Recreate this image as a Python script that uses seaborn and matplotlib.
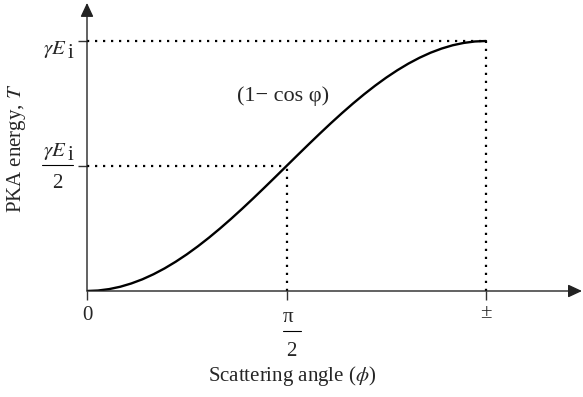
import matplotlib
matplotlib.use("Agg")
import matplotlib.pyplot as plt
import numpy as np
import pandas as pd
import seaborn as sns

# ---- data ----
angle_deg = [0, 5, 10, 15, 20, 25, 30, 35, 40, 45, 50, 55, 60, 65, 70, 75, 80, 85, 90,
             95, 100, 105, 110, 115, 120, 125, 130, 135, 140, 145, 150, 155, 160, 165,
             170, 175, 180]
energy_frac = [0.0, 0.0019, 0.0076, 0.0170, 0.0302, 0.0468, 0.0670, 0.0904, 0.1170,
               0.1464, 0.1786, 0.2132, 0.25, 0.2887, 0.3290, 0.3706, 0.4132, 0.4564,
               0.5, 0.5436, 0.5868, 0.6294, 0.6710, 0.7113, 0.75, 0.7868, 0.8214,
               0.8536, 0.8830, 0.9096, 0.9330, 0.9532, 0.9698, 0.9830, 0.9924, 0.9981,
               1.0]
x_ticks = [0, 90, 180]
y_ticks = [0.5, 1.0]
guide_angles = [90, 180]
guide_levels = [0.5, 1.0]

sns.set_style("white")
plt.rcParams["font.family"] = ["Liberation Serif", "DejaVu Serif"]
plt.rcParams["mathtext.fontset"] = "stix"

W, H = 583, 397
fig = plt.figure(figsize=(W / 100, H / 100), dpi=100)
ax = fig.add_axes([87 / W, (H - 291) / H, 496 / W, 291 / H])

df = pd.DataFrame({"angle": angle_deg, "T": energy_frac})
sns.lineplot(data=df, x="angle", y="T", ax=ax, color="black", lw=1.7)

ax.set_xlim(0, 496 * 180 / 399)
ax.set_ylim(0, 291 / 250)
for s in ax.spines.values():
    s.set_visible(False)
ax.set_xlabel("")
ax.set_ylabel("")
ax.set_xticks(x_ticks)
ax.set_yticks(y_ticks)
ax.tick_params(axis="both", direction="out", length=6.5, width=1.0, color="#333333",
               labelbottom=False, labelleft=False, bottom=True, left=True)

# dotted guide lines
dot = dict(color="black", lw=1.6, linestyle=(0, (1, 2.6)), dash_capstyle="butt")
for a, lv in zip(guide_angles, guide_levels):
    ax.plot([0, a], [lv, lv], **dot)
    ax.plot([a, a], [0, lv], **dot)

# axes with arrow heads
arr = dict(arrowstyle="-|>,head_length=0.6,head_width=0.28", mutation_scale=14,
           lw=1.0, color="#222222", shrinkA=0, shrinkB=0)
ax.annotate("", xy=(0.998, 0), xytext=(0, 0), xycoords="axes fraction",
            arrowprops=arr, annotation_clip=False)
ax.annotate("", xy=(0, 0.99), xytext=(0, 0), xycoords="axes fraction",
            arrowprops=arr, annotation_clip=False)


def P(px, py):
    return px / W, 1 - py / H


fs = 15
# y tick labels
fig.text(*P(67, 54), r"$\gamma E$", ha="right", va="baseline", fontsize=fs)
fig.text(*P(70.5, 58.5), "i", ha="center", va="baseline", fontsize=fs)
fig.text(*P(67, 156), r"$\gamma E$", ha="right", va="baseline", fontsize=fs)
fig.text(*P(70.5, 160.5), "i", ha="center", va="baseline", fontsize=fs)
fig.add_artist(plt.Line2D([42 / W, 73 / W], [1 - 164.5 / H, 1 - 164.5 / H],
                          color="black", lw=0.8))
fig.text(*P(57, 188.5), "2", ha="center", va="baseline", fontsize=fs)

# x tick labels
fig.text(*P(87, 319.5), "0", ha="center", va="baseline", fontsize=fs)
fig.text(*P(288.5, 322.5), "π", ha="center", va="baseline", fontsize=fs)
fig.add_artist(plt.Line2D([283 / W, 300.5 / W], [1 - 331 / H, 1 - 331 / H],
                          color="black", lw=0.8))
fig.text(*P(291, 355.5), "2", ha="center", va="baseline", fontsize=fs)
fig.text(*P(486, 318.5), "±", ha="center", va="baseline", fontsize=fs)

# annotation and axis titles
fig.text(*P(283.5, 96.5), "(1− cos φ)", ha="center", va="center", fontsize=16)
fig.text(*P(292, 381.5), r"Scattering angle ($\phi$)", ha="center", va="baseline",
         fontsize=fs)
fig.text(*P(17, 148.5), r"PKA energy, $T$", ha="center", va="center", rotation=90,
         fontsize=fs)

fig.savefig("out.png", dpi=100)
